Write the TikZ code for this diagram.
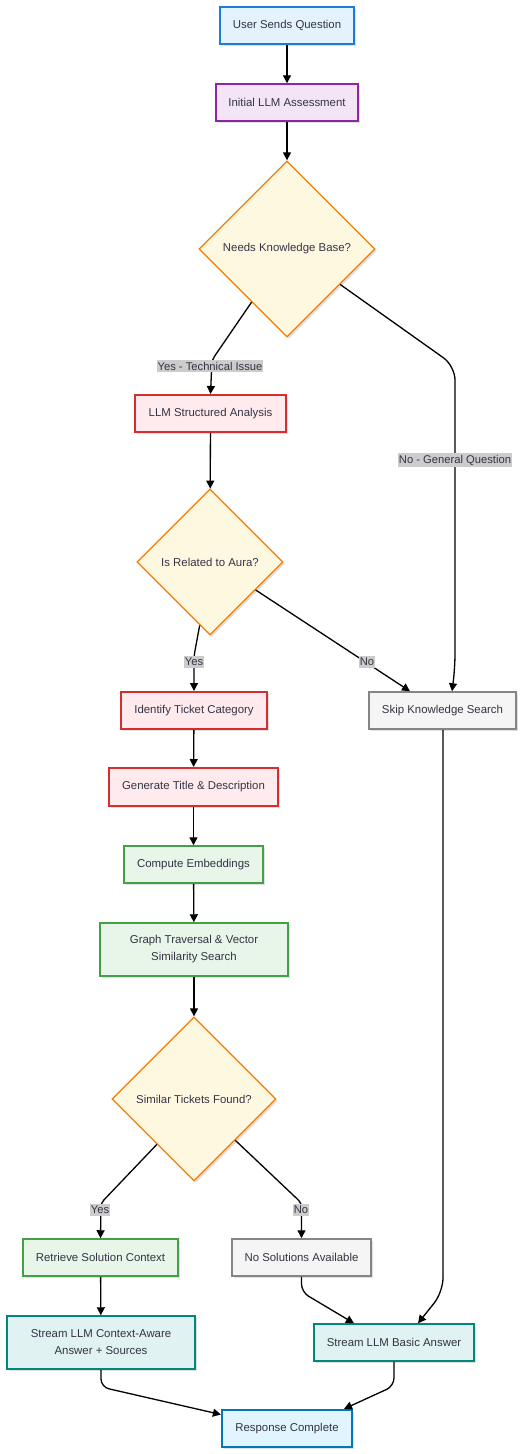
\documentclass[tikz,border=0pt]{standalone}
\usepackage{fontspec}
\setmainfont{Liberation Sans}
\usetikzlibrary{shapes.geometric,arrows.meta,calc,shadows}
\definecolor{txt}{HTML}{333344}
\definecolor{bluB}{HTML}{1E7BD6}\definecolor{bluF}{HTML}{E3F2FD}
\definecolor{purB}{HTML}{8E24AA}\definecolor{purF}{HTML}{F3E5F5}
\definecolor{oraB}{HTML}{F57C00}\definecolor{oraF}{HTML}{FFF8E1}
\definecolor{redB}{HTML}{D32F2F}\definecolor{redF}{HTML}{FFEBEE}
\definecolor{grnB}{HTML}{43A047}\definecolor{grnF}{HTML}{E8F5E9}
\definecolor{gryB}{HTML}{858585}\definecolor{gryF}{HTML}{F5F5F5}
\definecolor{tealB}{HTML}{00897B}\definecolor{tealF}{HTML}{E0F2F1}
\definecolor{lbluB}{HTML}{0277BD}\definecolor{lbluF}{HTML}{E1F5FE}
\definecolor{lblF}{HTML}{CCCCCC}
\tikzset{
  base/.style={rectangle, draw, inner sep=0pt, text=txt, align=center,
    font=\fontsize{11.4}{17}\selectfont,
    drop shadow={shadow xshift=2pt, shadow yshift=-2pt, opacity=0.12, fill=black}},
  bluebox/.style={base, draw=bluB, fill=bluF, line width=2pt},
  purbox/.style={base, draw=purB, fill=purF, line width=1.5pt},
  redbox/.style={base, draw=redB, fill=redF, line width=2pt},
  grnbox/.style={base, draw=grnB, fill=grnF, line width=1.5pt},
  grybox/.style={base, draw=gryB, fill=gryF, line width=1.5pt},
  tealbox/.style={base, draw=tealB, fill=tealF, line width=1.5pt},
  lbluebox/.style={base, draw=lbluB, fill=lbluF, line width=2.2pt},
  decision/.style={diamond, shape aspect=1, draw=oraB, fill=oraF, line width=1.3pt,
    inner sep=0pt, text=txt, font=\fontsize{11.4}{17}\selectfont,
    drop shadow={shadow xshift=2pt, shadow yshift=-2pt, opacity=0.12, fill=black}},
  arr/.style={draw=black, line width=1.3pt, -{Triangle[length=8pt,width=8pt]}, rounded corners=8pt},
  lbl/.style={fill=lblF, inner xsep=1pt, inner ysep=2pt, text=txt, font=\fontsize{11.2}{13}\selectfont}
}
\begin{document}
\begin{tikzpicture}[x=1pt,y=-1pt]
\useasboundingbox (0,0) rectangle (523,1454);
\fill[white] (0,0) rectangle (523,1454);
% nodes
\node[bluebox, minimum width=134pt, minimum height=37pt] (usq) at (287,25.5) {User Sends Question};
\node[purbox, minimum width=142pt, minimum height=37pt] (ila) at (287,102.5) {Initial LLM Assessment};
\node[decision, minimum width=176pt, minimum height=176pt] (d1) at (287,249) {Needs Knowledge Base?};
\node[redbox, minimum width=151pt, minimum height=37pt] (lsa) at (210.5,413.5) {LLM Structured Analysis};
\node[decision, minimum width=146pt, minimum height=146pt] (d2) at (210,562) {Is Related to Aura?};
\node[grybox, minimum width=147pt, minimum height=37pt] (skip) at (442.5,710.5) {Skip Knowledge Search};
\node[redbox, minimum width=146pt, minimum height=37pt] (itc) at (194,710.5) {Identify Ticket Category};
\node[redbox, minimum width=169pt, minimum height=38pt] (gtd) at (193.5,787) {Generate Title \& Description};
\node[grnbox, minimum width=139pt, minimum height=37pt] (ce) at (193.5,864.5) {Compute Embeddings};
\node[grnbox, minimum width=188pt, minimum height=53pt] (gt) at (194,949.5) {Graph Traversal \& Vector\\Similarity Search};
\node[decision, minimum width=164pt, minimum height=164pt] (d3) at (194,1099) {Similar Tickets Found?};
\node[grnbox, minimum width=155pt, minimum height=37pt] (rsc) at (100.5,1257.5) {Retrieve Solution Context};
\node[grybox, minimum width=139pt, minimum height=37pt] (nsa) at (301.5,1257.5) {No Solutions Available};
\node[tealbox, minimum width=188pt, minimum height=53pt] (slc) at (101,1342.5) {Stream LLM Context-Aware\\Answer + Sources};
\node[tealbox, minimum width=160pt, minimum height=37pt] (slb) at (394,1342.5) {Stream LLM Basic Answer};
\node[lbluebox, minimum width=130pt, minimum height=37pt] (rc) at (287,1428.5) {Response Complete};
% edges
\draw[arr] (usq) -- (ila);
\draw[arr] (ila) -- (d1);
\draw[arr, rounded corners=4pt] ($(d1.west)!0.6!(d1.south)$) -- (212,360) -- (lsa.north);
\node[lbl] (l1) at (210,366) {Yes - Technical Issue};
\draw[arr, rounded corners=14pt] ($(d1.east)!0.4!(d1.south)$) -- (455,366) -- (455,668) -- ([xshift=9.5pt]skip.north);
\node[lbl] (l2) at (455,460) {No - General Question};
\draw[arr] (lsa) -- (d2);
\draw[arr, rounded corners=4pt] ($(d2.west)!0.86!(d2.south)$) -- (194,656) -- (itc.north);
\node[lbl] (l3) at (194,662) {Yes};
\draw[arr] ($(d2.east)!0.38!(d2.south)$) -- ([xshift=-32.5pt]skip.north);
\node[lbl] (l4) at (367,662) {No};
\draw[arr] (itc) -- (gtd);
\draw[arr] (gtd) -- (ce);
\draw[arr] (ce) -- (gt);
\draw[arr] (gt) -- (d3);
\draw[arr, rounded corners=4pt] ($(d3.west)!0.55!(d3.south)$) -- (101,1203) -- (rsc.north);
\node[lbl] (l5) at (100,1210) {Yes};
\draw[arr, rounded corners=4pt] ($(d3.east)!0.5!(d3.south)$) -- (301.5,1203) -- (nsa.north);
\node[lbl] (l6) at (301,1210) {No};
\draw[arr] (rsc) -- (slc);
\draw[arr] (nsa.south) -- (301.5,1292) -- ([xshift=-40pt]slb.north);
\draw[arr, rounded corners=14pt] ([xshift=0.5pt]skip.south) -- (443,1292) -- ([xshift=24pt]slb.north);
\draw[arr] (slc.south) -- (101,1387) -- ([yshift=14pt]rc.west);
\draw[arr] (slb.south) -- (394,1386) -- ([xshift=57pt]rc.north);
\end{tikzpicture}
\end{document}
